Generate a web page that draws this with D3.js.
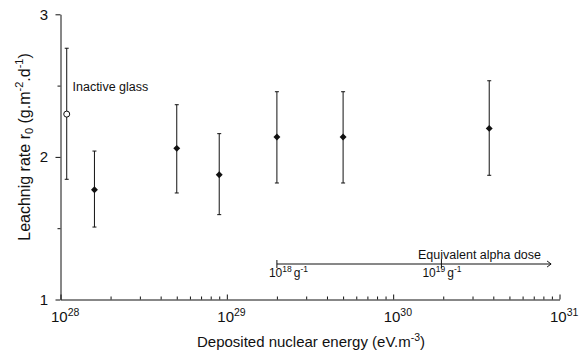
<!DOCTYPE html>
<html>
<head>
<meta charset="utf-8">
<script src="https://cdn.jsdelivr.net/npm/d3@7"></script>
<style>
  html, body { margin: 0; padding: 0; background: #fff; }
  svg { display: block; font-family: "Liberation Sans", Arial, Helvetica, sans-serif; }
</style>
</head>
<body>
<svg id="chart" width="587" height="357"></svg>
<script>
// ---- data ----
const energy   = [1.09e28, 1.6e28, 5e28, 9e28, 2e29, 5e29, 3.78e30];
const rate     = [2.30, 1.77, 2.06, 1.875, 2.14, 2.14, 2.20];
const rateLow  = [1.843, 1.508, 1.747, 1.595, 1.817, 1.817, 1.871];
const rateHigh = [2.762, 2.041, 2.366, 2.163, 2.457, 2.457, 2.534];
const isInactive = [true, false, false, false, false, false, false];
const xMajorExp = [28, 29, 30, 31];
const yMajor = [1, 2, 3];
const yMinor = [1.5, 2.5];
const alphaDose = [2e29, 1.95e30, 8.9e30];
const alphaLabels = [{base: "10", sup: "18"}, {base: "10", sup: "19"}];

// ---- scales ----
const svg = d3.select("#chart");
const x = d3.scaleLog().domain([1e28, 1e31]).range([60.5, 559.5]);
const y = d3.scaleLinear().domain([1, 3]).range([299.5, 14.3]);
const ink = "#111";

// x minor ticks
const xMinor = [];
for (let e = 28; e < 31; e++) for (let m = 2; m <= 9; m++) xMinor.push(m * Math.pow(10, e));

const gx = svg.append("g").attr("transform", `translate(0,${y(1)})`);
gx.call(d3.axisBottom(x).tickValues(xMajorExp.map(e => Math.pow(10, e))).tickSizeInner(-5).tickSizeOuter(0).tickFormat(""));
const gxm = svg.append("g").attr("transform", `translate(0,${y(1)})`);
gxm.call(d3.axisBottom(x).tickValues(xMinor).tickSizeInner(-3).tickSizeOuter(0).tickFormat(""));
gxm.select(".domain").remove();

const gy = svg.append("g").attr("transform", `translate(${x(1e28)},0)`);
gy.call(d3.axisLeft(y).tickValues(yMajor).tickSizeInner(5).tickSizeOuter(0).tickFormat(""));
const gym = svg.append("g").attr("transform", `translate(${x(1e28)},0)`);
gym.call(d3.axisLeft(y).tickValues(yMinor).tickSizeInner(3).tickSizeOuter(0).tickFormat(""));
gym.select(".domain").remove();

svg.selectAll(".domain, .tick line").attr("stroke", ink).attr("stroke-width", 1);

// y tick labels
svg.append("g").selectAll("text").data(yMajor).join("text")
  .attr("x", 48).attr("y", d => y(d)).attr("dy", "0.36em")
  .attr("text-anchor", "end").attr("font-size", 15).attr("fill", ink)
  .text(d => d);

// x tick labels
const xl = svg.append("g").selectAll("text").data(xMajorExp).join("text")
  .attr("x", d => x(Math.pow(10, d)) - 9.5).attr("y", 322)
  .attr("font-size", 15).attr("fill", ink);
xl.append("tspan").text("10");
xl.append("tspan").attr("dy", -6.5).attr("font-size", 10.5).text(d => d);

// axis titles
const xt = svg.append("text").attr("x", 311).attr("y", 347).attr("text-anchor", "middle")
  .attr("font-size", 15).attr("fill", ink);
xt.append("tspan").text("Deposited nuclear energy (eV.m");
xt.append("tspan").attr("dy", -6).attr("font-size", 10.5).text("-3");
xt.append("tspan").attr("dy", 6).text(")");

const yt = svg.append("text").attr("transform", "translate(30,147) rotate(-90)")
  .attr("text-anchor", "middle").attr("font-size", 16).attr("fill", ink);
yt.append("tspan").text("Leachnig rate r");
yt.append("tspan").attr("dy", 3).attr("font-size", 11).text("0");
yt.append("tspan").attr("dy", -3).text(" (g.m");
yt.append("tspan").attr("dy", -7).attr("font-size", 11).text("-2");
yt.append("tspan").attr("dy", 7).text(".d");
yt.append("tspan").attr("dy", -7).attr("font-size", 11).text("-1");
yt.append("tspan").attr("dy", 7).text(")");

// data
const pts = energy.map((e, i) => ({e, r: rate[i], lo: rateLow[i], hi: rateHigh[i], open: isInactive[i]}));
const g = svg.append("g");
g.selectAll("line.err").data(pts).join("line").attr("class", "err")
  .attr("x1", d => x(d.e)).attr("x2", d => x(d.e))
  .attr("y1", d => y(d.lo)).attr("y2", d => y(d.hi))
  .attr("stroke", ink).attr("stroke-width", 1);
["lo", "hi"].forEach(k => {
  g.selectAll("line.cap" + k).data(pts).join("line").attr("class", "cap" + k)
    .attr("x1", d => x(d.e) - 2).attr("x2", d => x(d.e) + 2)
    .attr("y1", d => y(d[k])).attr("y2", d => y(d[k]))
    .attr("stroke", ink).attr("stroke-width", 1);
});
g.selectAll("path.pt").data(pts.filter(d => !d.open)).join("path").attr("class", "pt")
  .attr("d", d3.symbol(d3.symbolSquare, 24)())
  .attr("transform", d => `translate(${x(d.e)},${y(d.r)}) rotate(45)`)
  .attr("fill", ink);
g.selectAll("circle.pt").data(pts.filter(d => d.open)).join("circle").attr("class", "pt")
  .attr("cx", d => x(d.e)).attr("cy", d => y(d.r)).attr("r", 3)
  .attr("fill", "#fff").attr("stroke", ink).attr("stroke-width", 1);

svg.append("text").attr("x", 72.5).attr("y", 90.5).attr("font-size", 12.5).attr("fill", ink)
  .text("Inactive glass");

// equivalent alpha dose arrow
const ay = 264;
const a = svg.append("g").attr("stroke", ink).attr("stroke-width", 1).attr("fill", "none");
a.append("line").attr("x1", x(alphaDose[0])).attr("x2", x(alphaDose[2])).attr("y1", ay).attr("y2", ay);
a.append("line").attr("x1", x(alphaDose[0])).attr("x2", x(alphaDose[0])).attr("y1", ay - 4).attr("y2", ay + 4);
a.append("line").attr("x1", x(alphaDose[1])).attr("x2", x(alphaDose[1])).attr("y1", ay - 5).attr("y2", ay + 4);
a.append("path").attr("d", `M${x(alphaDose[2]) - 4},${ay - 3}L${x(alphaDose[2])},${ay}L${x(alphaDose[2]) - 4},${ay + 3}`);

svg.append("text").attr("x", 541).attr("y", 259).attr("text-anchor", "end")
  .attr("font-size", 12.5).attr("fill", ink).text("Equivalent alpha dose");

const al = svg.append("g").selectAll("text").data(alphaLabels).join("text")
  .attr("x", (d, i) => x(alphaDose[i]) + (i === 0 ? -8 : -19)).attr("y", 277)
  .attr("font-size", 12).attr("fill", ink);
al.append("tspan").text(d => d.base);
al.append("tspan").attr("dy", -5).attr("font-size", 8.5).text(d => d.sup);
al.append("tspan").attr("dy", 5).attr("dx", 2).text("g");
al.append("tspan").attr("dy", -5).attr("font-size", 8.5).text("-1");
</script>
</body>
</html>
